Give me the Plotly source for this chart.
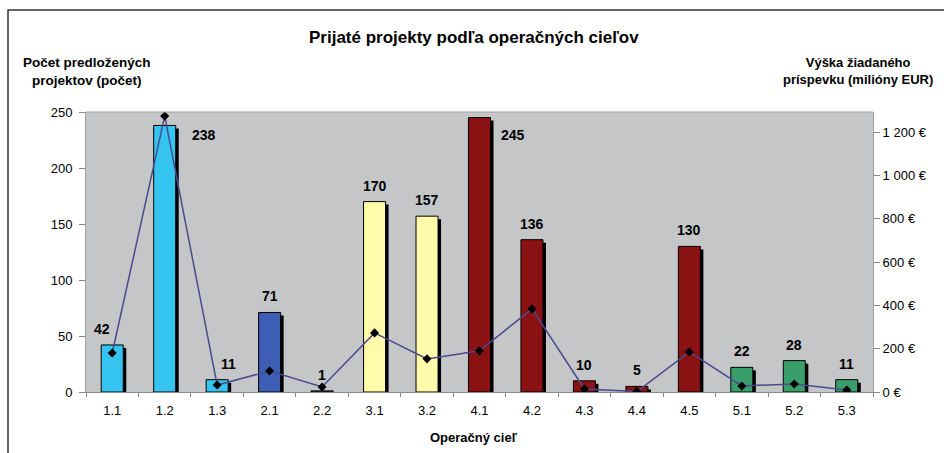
import plotly.graph_objects as go

categories = ["1.1", "1.2", "1.3", "2.1", "2.2", "3.1", "3.2", "4.1", "4.2", "4.3", "4.4", "4.5", "5.1", "5.2", "5.3"]
projects = [42, 238, 11, 71, 1, 170, 157, 245, 136, 10, 5, 130, 22, 28, 11]
contribution = [180, 1274, 32, 97, 23, 273, 153, 190, 384, 14, 2, 185, 28, 37, 9]
right_ticks = [0, 200, 400, 600, 800, 1000, 1200]

group_colors = {"1": "#35C3EF", "2": "#3E5DB4", "3": "#FFFBAA", "4": "#8A1212", "5": "#3A9E6A"}
bar_colors = [group_colors[c.split(".")[0]] for c in categories]

# label placement styling (pixel shifts)
label_dx = [-10, 39, 11, 0, 0, 0, 0, 33, 0, 0, 0, 0, 0, 0, 0]
label_dy = [16, -10, 16, 16, 16, 16, 16, -17, 16, 16, 16, 16, 16, 16, 16]

W, H = 944, 453
L, R, T, B = 86, 71, 112, 61
pw, ph = W - L - R, H - T - B

def px(x):
    return (x - L) / pw

def py(y):
    return (H - B - y) / ph

font = "Liberation Sans, Arial, sans-serif"
bw = 0.42
shift = 3 / (pw / len(categories))
shadow_h = [max(v - 2.7, 0) for v in projects]

fig = go.Figure()
fig.add_trace(go.Bar(x=categories, y=shadow_h, width=bw, offset=-bw / 2 + shift,
                     marker=dict(color="#000000", line=dict(width=0)),
                     showlegend=False, hoverinfo="skip"))
fig.add_trace(go.Bar(x=categories, y=projects, width=bw, offset=-bw / 2,
                     marker=dict(color=bar_colors, line=dict(color="#000000", width=1)),
                     showlegend=False))
fig.add_trace(go.Scatter(x=categories, y=contribution, yaxis="y2", mode="lines+markers",
                         line=dict(color="#4A4A8E", width=1.5),
                         marker=dict(symbol="diamond", size=7, color="#000000"),
                         showlegend=False))

annotations = []
for i, (v, dx, dy) in enumerate(zip(projects, label_dx, label_dy)):
    annotations.append(dict(x=i, y=v, xref="x", yref="y", text=f"<b>{v}</b>", showarrow=False,
                            xanchor="center", yanchor="middle",
                            xshift=dx, yshift=dy, font=dict(family=font, size=14, color="#000000")))

common = dict(xref="paper", yref="paper", showarrow=False, xanchor="center", yanchor="middle")
annotations += [
    dict(x=px(474), y=py(37), text="<b>Prijaté projekty podľa operačných cieľov</b>",
         font=dict(family=font, size=17, color="#000000"), **common),
    dict(x=px(87), y=py(71), text="<b>Počet predložených<br>projektov (počet)</b>", align="center",
         font=dict(family=font, size=13.5, color="#000000"), **common),
    dict(x=px(858), y=py(71), text="<b>Výška žiadaného<br>príspevku (milióny EUR)</b>", align="center",
         font=dict(family=font, size=13, color="#000000"), **common),
    dict(x=px(474), y=py(437), text="<b>Operačný cieľ</b>",
         font=dict(family=font, size=13, color="#000000"), **common),
]

fig.update_layout(
    width=W, height=H,
    margin=dict(l=L, r=R, t=T, b=B),
    paper_bgcolor="#FFFFFF",
    plot_bgcolor="#C5C6C8",
    barmode="overlay",
    font=dict(family=font, size=13, color="#000000"),
    annotations=annotations,
    shapes=[dict(type="rect", xref="paper", yref="paper", x0=px(8), y0=-1, x1=2, y1=py(10),
                 line=dict(color="#333333", width=1.5), layer="below"),
            dict(type="line", xref="paper", yref="paper", x0=0, x1=1, y0=1, y1=1,
                 line=dict(color="#A0A0A0", width=1))],
    xaxis=dict(type="category", range=[-0.5, len(categories) - 0.5], tickson="boundaries",
               ticks="outside", ticklen=4, tickcolor="#888888", ticklabelstandoff=6,
               showline=True, linecolor="#8A8A8A", linewidth=1, showgrid=False,
               tickfont=dict(size=13)),
    yaxis=dict(range=[0, 250], dtick=50, ticks="outside", ticklen=6, tickcolor="#888888",
               ticklabelstandoff=4,
               showline=True, linecolor="#A0A0A0", showgrid=False, zeroline=False,
               tickfont=dict(size=13)),
    yaxis2=dict(range=[0, 1293], overlaying="y", side="right", tickvals=right_ticks,
                ticktext=[f"{v:,}".replace(",", " ") + " €" for v in right_ticks],
                ticks="outside", ticklen=6, tickcolor="#888888",
                showline=True, linecolor="#A0A0A0", showgrid=False, zeroline=False,
                tickfont=dict(size=13)),
)

fig.write_html("out.html", config={"displayModeBar": False},
               post_script="document.body.style.margin='0';document.body.style.overflow='hidden';")
